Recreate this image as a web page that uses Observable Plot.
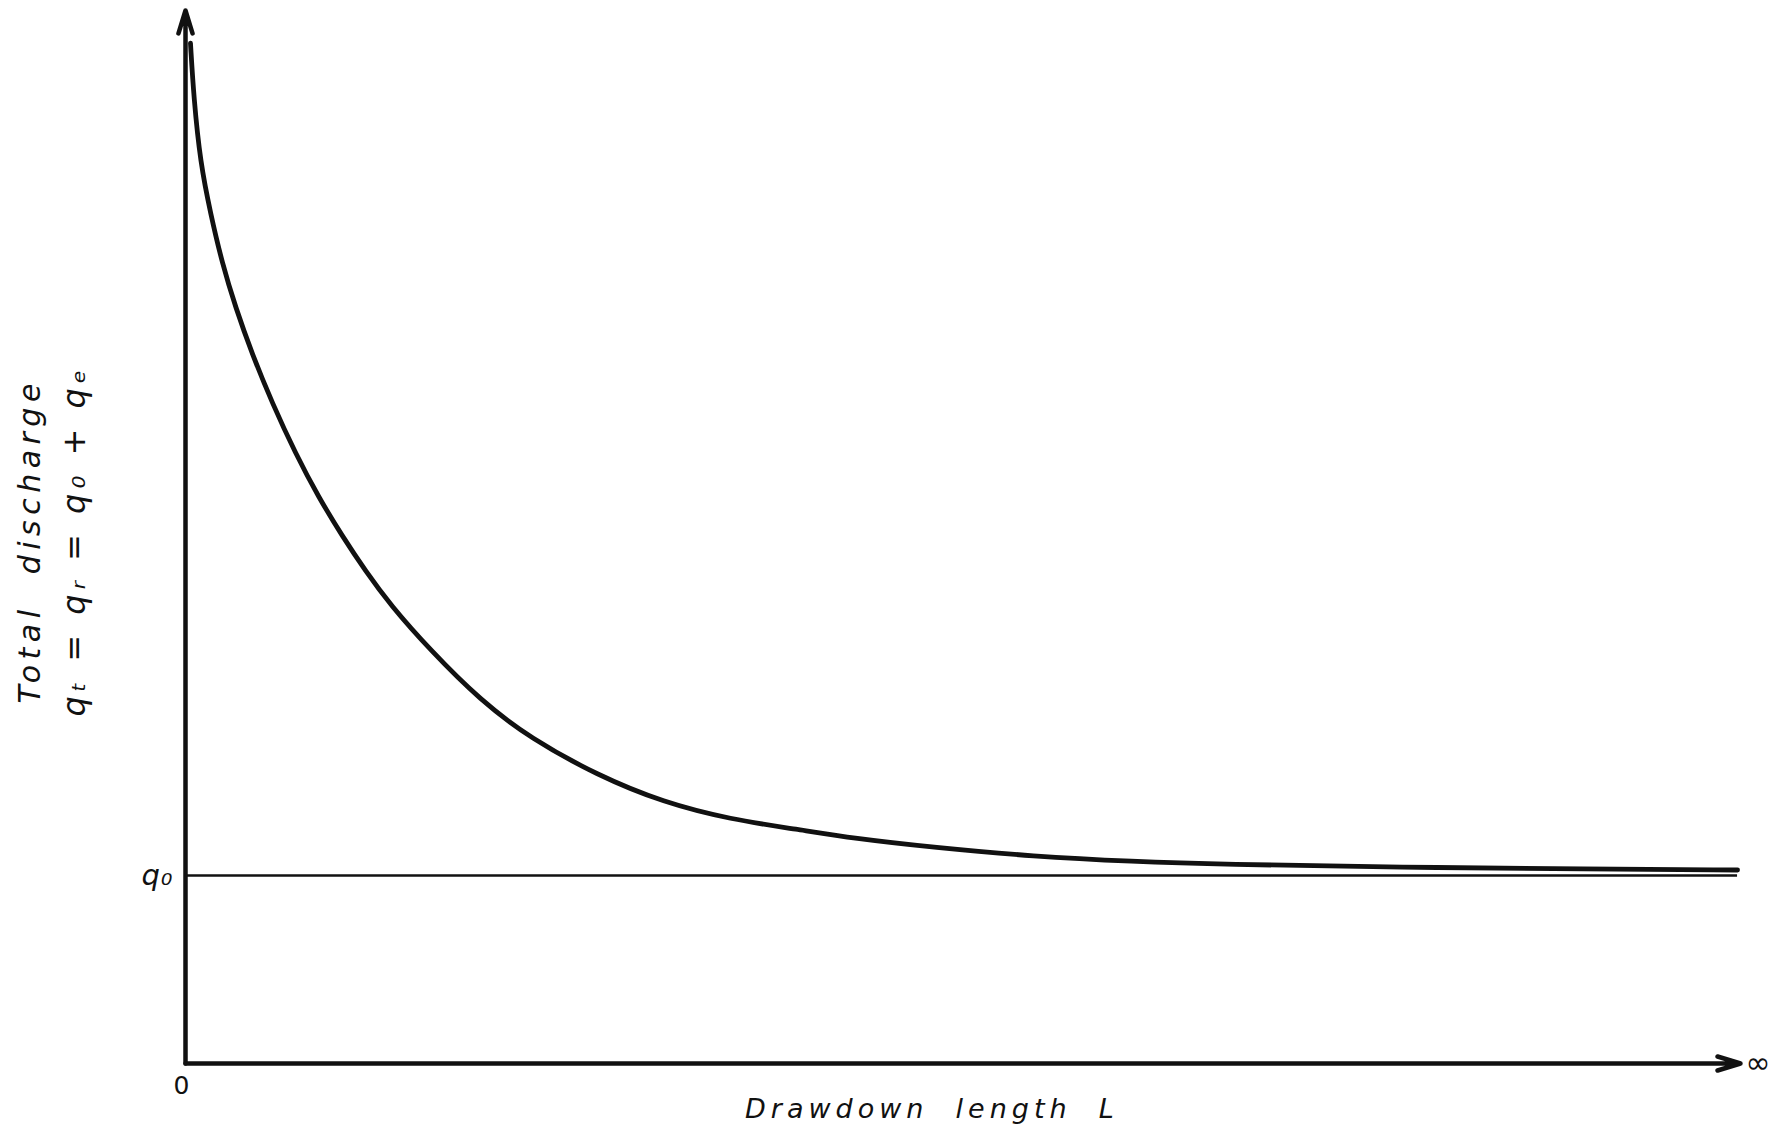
<!DOCTYPE html>
<html>
<head>
<meta charset="utf-8">
<script src="https://cdn.jsdelivr.net/npm/d3@7"></script>
<script src="https://cdn.jsdelivr.net/npm/@observablehq/plot@0.6"></script>
<style>
  html, body { margin: 0; padding: 0; background: #ffffff; }
  #chart svg { display: block; background: #ffffff; }
</style>
</head>
<body>
<div id="chart"></div>
<script>
// Drawdown length L (arbitrary units, 0 .. 100 = "infinity")
const drawdownL = [0.32, 0.53, 0.96, 1.61, 2.36, 3.22, 4.29, 5.58, 7.07, 8.55, 10.08, 11.58, 13.18, 15.76, 18.97, 22.19, 26.50, 30.74, 35.05, 39.36, 42.96, 48.10, 54.53, 60.96, 66.56, 78.14, 90.35, 99.81];
// Total discharge q_t in units of q0
const totalDischarge = [5.426, 5.138, 4.787, 4.521, 4.255, 4.021, 3.772, 3.512, 3.245, 3.013, 2.805, 2.619, 2.438, 2.197, 1.931, 1.729, 1.532, 1.388, 1.298, 1.245, 1.197, 1.149, 1.101, 1.074, 1.059, 1.043, 1.035, 1.029];
const q0Level = 1;
const xEnd = 100;       // position of the infinity arrow tip
const yTop = 5.6;       // top of the vertical axis arrow
const curveEnd = 99.81;

const yTitle1 = "Total  discharge";
const yTitle2 = "qₜ = qᵣ = q₀ + qₑ";
const xTitle = "Drawdown  length  L";
const q0Label = "q₀";
const originLabel = "0";
const infinityLabel = "∞";

const curve = drawdownL.map((L, i) => ({L, q: totalDischarge[i]}));
const ink = "#111111";
const font = "DejaVu Sans, sans-serif";

const chart = Plot.plot({
  width: 1781,
  height: 1127,
  marginLeft: 185,
  marginRight: 41,
  marginTop: 10,
  marginBottom: 64,
  x: {domain: [0, xEnd], axis: null},
  y: {domain: [0, yTop], axis: null},
  style: {fontFamily: font, color: ink, background: "#ffffff"},
  marks: [
    // q0 asymptote
    Plot.ruleY([q0Level], {x1: 0, x2: curveEnd, stroke: ink, strokeWidth: 2.6}),
    // discharge curve
    Plot.line(curve, {x: "L", y: "q", stroke: ink, strokeWidth: 4.8, curve: "basis"}),
    // axes with arrows
    Plot.arrow([{x1: 0, y1: 0, x2: 0, y2: yTop}], {x1: "x1", y1: "y1", x2: "x2", y2: "y2", stroke: ink, strokeWidth: 4.5, headAngle: 34, headLength: 8}),
    Plot.arrow([{x1: 0, y1: 0, x2: xEnd, y2: 0}], {x1: "x1", y1: "y1", x2: "x2", y2: "y2", stroke: ink, strokeWidth: 4.5, headAngle: 34, headLength: 8}),
    // labels
    Plot.text([originLabel], {x: 0, y: 0, text: d => d, dx: -4, dy: 22, fontSize: 25, fill: ink}),
    Plot.text([infinityLabel], {x: xEnd, y: 0, text: d => d, dx: 5, dy: 0, textAnchor: "start", fontSize: 30, fill: ink}),
    Plot.text([q0Label], {x: 0, y: q0Level, text: d => d, dx: -12, dy: 0, textAnchor: "end", fontSize: 29, fontStyle: "italic", fill: ink}),
    Plot.text([xTitle], {x: 48, y: 0, text: d => d, dy: 46, fontSize: 27, fontStyle: "italic", fill: ink}),
    Plot.text([yTitle1], {x: 0, y: 2.78, text: d => d, dx: -155, rotate: -90, fontSize: 30, fontStyle: "italic", fill: ink}),
    Plot.text([yTitle2], {x: 0, y: 2.78, text: d => d, dx: -111, rotate: -90, fontSize: 32, fontStyle: "italic", fill: ink})
  ]
});

// hand-lettered look: widen letter spacing of the titles
const spacing = new Map([[yTitle1, 5.5], [yTitle2, 5], [xTitle, 5], [q0Label, 1]]);
d3.select(chart).selectAll("text").each(function () {
  const s = spacing.get(this.textContent);
  if (s !== undefined) this.setAttribute("letter-spacing", s);
});

document.getElementById("chart").appendChild(chart);
</script>
</body>
</html>
